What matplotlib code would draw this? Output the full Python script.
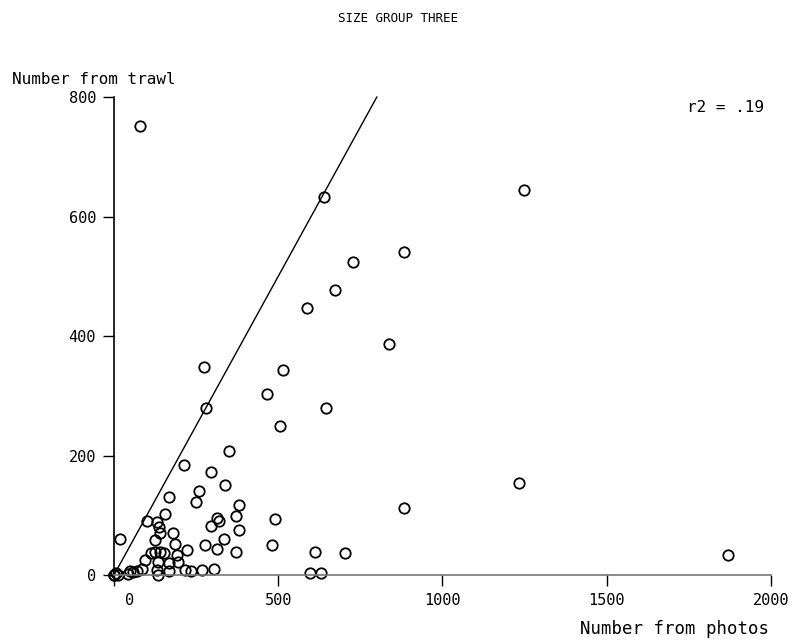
import matplotlib
matplotlib.use("Agg")
import matplotlib.pyplot as plt
import matplotlib.transforms as mtransforms

# values
photos = [0, 0, 5, 12, 80, 18, 42, 50, 59, 71, 84, 95, 100, 130, 136, 140, 125,
          155, 168, 180, 214, 113, 125, 140, 153, 187, 191, 135, 166, 194, 130,
          133, 166, 216, 235, 221, 260, 250, 294, 337, 351, 274, 280, 382, 372,
          313, 321, 296, 381, 336, 277, 315, 372, 267, 303, 480, 489, 465, 516,
          506, 588, 640, 646, 673, 727, 838, 882, 882, 611, 702, 598, 630, 1247,
          1232, 1869]
trawl = [0, 0, 3, 0, 752, 61, 2, 6, 5, 7, 10, 25, 91, 89, 81, 70, 58,
         102, 130, 71, 184, 37, 39, 38, 37, 52, 33, 22, 20, 22, 8,
         0, 6, 8, 6, 42, 140, 122, 172, 151, 208, 348, 279, 117, 98,
         95, 90, 82, 75, 60, 50, 44, 39, 8, 10, 51, 94, 303, 343,
         250, 447, 632, 280, 477, 524, 386, 540, 113, 39, 37, 4, 3, 645,
         154, 33]

line_x = [0, 800]
line_y = [0, 800]

x_ticks = [0, 500, 1000, 1500, 2000]
y_ticks = [0, 200, 400, 600, 800]

plt.rcParams['font.family'] = ['DejaVu Sans Mono']

fig = plt.figure(figsize=(7.96, 6.44), dpi=100)
ax = fig.add_axes([0.1432, 0.1071, 0.8254, 0.7422])

ax.plot(line_x, line_y, color='black', lw=1.0, clip_on=False)
ax.plot(photos, trawl, 'o', ms=7.5, mfc='none', mec='black', mew=1.3, clip_on=False)

ax.set_xlim(0, 2000)
ax.set_ylim(0, 800)
ax.set_xticks(x_ticks)
ax.set_yticks(y_ticks)
ax.tick_params(axis='both', direction='out', length=8, width=1.0, labelsize=11, pad=5)

# the zero label on the x axis sits a bit right of its tick in the original
lbl0 = ax.get_xticklabels()[0]
lbl0.set_transform(lbl0.get_transform() +
                   mtransforms.ScaledTranslation(16 / 100, 0, fig.dpi_scale_trans))

for s in ['top', 'right']:
    ax.spines[s].set_visible(False)
ax.spines['left'].set_linewidth(1.2)
ax.spines['bottom'].set_color('#777777')
ax.spines['bottom'].set_linewidth(1.2)

fig.text(0.5, 1 - 18 / 644, 'SIZE GROUP THREE', ha='center', va='center', fontsize=9)
fig.text(12 / 796, 1 - 79 / 644, 'Number from trawl', ha='left', va='center', fontsize=11.5)
fig.text(769 / 796, 1 - 629 / 644, 'Number from photos', ha='right', va='center', fontsize=12.5)
fig.text(687 / 796, 1 - 108 / 644, 'r2 = .19', ha='left', va='center', fontsize=11.5)

fig.savefig('out.png', dpi=100)
